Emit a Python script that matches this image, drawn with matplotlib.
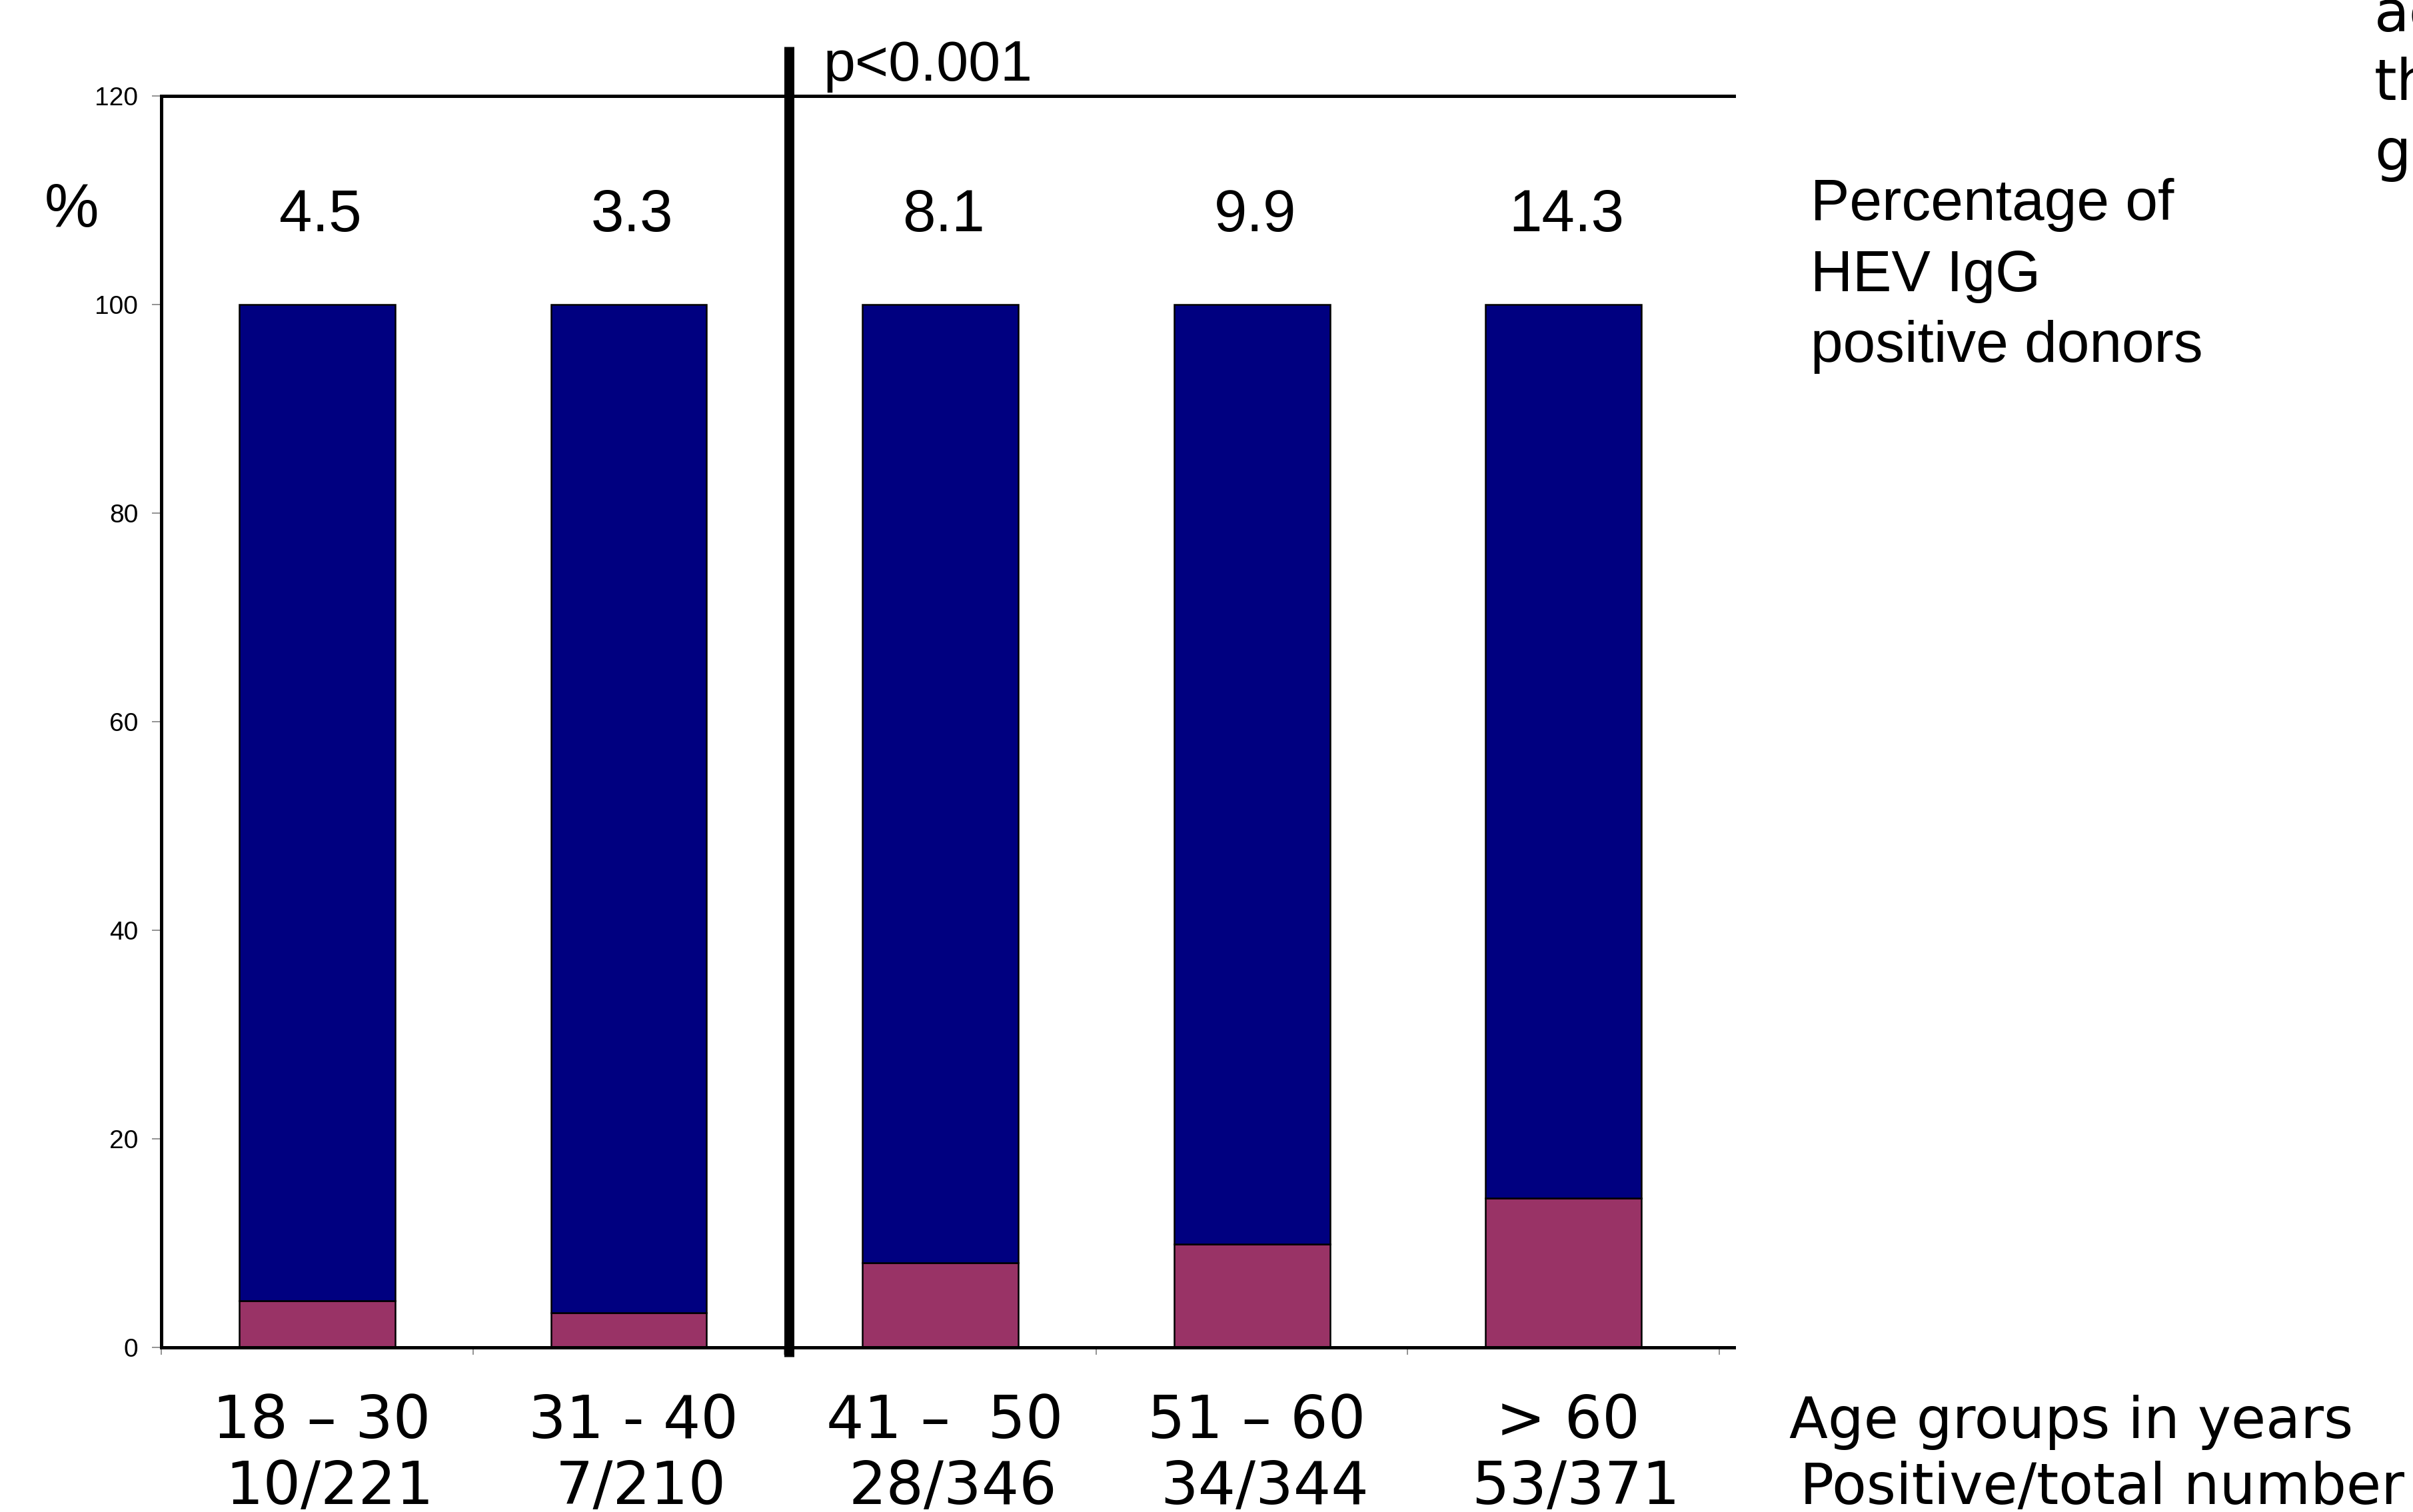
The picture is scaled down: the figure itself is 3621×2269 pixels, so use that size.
import matplotlib
matplotlib.use('Agg')
import matplotlib.pyplot as plt
from matplotlib.transforms import blended_transform_factory

# ---- data ----
age_groups = ["18 – 30", "31 - 40", "41 –  50", "51 – 60", "> 60"]
counts = ["10/221", "7/210", "28/346", "34/344", "53/371"]
positive_pct = [4.5, 3.3, 8.1, 9.9, 14.3]
total_pct = [100, 100, 100, 100, 100]
pct_labels = ["4.5", "3.3", "8.1", "9.9", "14.3"]
yticks = [0, 20, 40, 60, 80, 100, 120]
legend_lines = ["Percentage of", "HEV IgG", "positive donors"]
axis_note = ["Age groups in years", "Positive/total number"]
cut_text = ["according", "the", "groups"]

W, H = 3621, 2269
DPI = 200
ARIAL = 'Liberation Sans'
VERD = 'DejaVu Sans'

fig = plt.figure(figsize=(W / DPI, H / DPI), dpi=DPI)
fig.patch.set_facecolor('white')
ax = fig.add_axes([242 / W, 1 - 2022 / H, (2602 - 242) / W, (2022 - 144) / H])

x = list(range(len(age_groups)))
rest = [t - p for t, p in zip(total_pct, positive_pct)]
ax.bar(x, positive_pct, width=0.5, color='#993366', edgecolor='black', linewidth=0.9, zorder=2)
ax.bar(x, rest, bottom=positive_pct, width=0.5, color='#000080', edgecolor='black', linewidth=0.9, zorder=2)

ax.set_xlim(-0.5, 4.547)
ax.set_ylim(0, 120)

for s in ['left', 'top', 'bottom']:
    ax.spines[s].set_linewidth(1.8)
    ax.spines[s].set_color('black')
ax.spines['right'].set_visible(False)

ax.set_yticks(yticks)
ax.set_yticklabels([str(v) for v in yticks], fontfamily=ARIAL, fontsize=14)
ax.tick_params(axis='y', direction='out', length=5, width=0.6, color='#808080', pad=7.5)
ax.set_xticks([i - 0.5 for i in range(len(age_groups) + 1)])
ax.set_xticklabels([])
ax.tick_params(axis='x', direction='out', length=4, width=0.6, color='#808080')

# significance separator
ax.plot([1.515, 1.515], [-0.9, 124.7], color='black', lw=5.4, clip_on=False,
        solid_capstyle='butt', zorder=5)
ax.text(1.625, 121.5, 'p<0.001', ha='left', va='baseline', fontsize=31, fontfamily=ARIAL)

# percentage labels above bars
for xi, lab in zip(x, pct_labels):
    ax.text(xi + 0.01, 107.0, lab, ha='center', va='baseline', fontsize=32, fontfamily=ARIAL)

# category labels under the axis
trans = blended_transform_factory(ax.transData, fig.transFigure)
for xi, g, c in zip(x, age_groups, counts):
    fig.text(xi + 0.015, 1 - 2158 / H, g, transform=trans, ha='center', va='baseline',
             fontsize=32, fontfamily=VERD)
    fig.text(xi + 0.04, 1 - 2257 / H, c, transform=trans, ha='center', va='baseline',
             fontsize=32, fontfamily=VERD)

# y label
fig.text(107 / W, 1 - 316 / H, '%', ha='center', va='center', fontsize=33, fontfamily=ARIAL)

# right-hand legend text
for line, yb in zip(legend_lines, [330, 437, 543]):
    fig.text(2717 / W, 1 - yb / H, line, ha='left', va='baseline', fontsize=31.5, fontfamily=ARIAL)

fig.text(2685 / W, 1 - 2158 / H, axis_note[0], ha='left', va='baseline', fontsize=30.5, fontfamily=VERD)
fig.text(2701 / W, 1 - 2257 / H, axis_note[1], ha='left', va='baseline', fontsize=30.5, fontfamily=VERD)

# text cut off at the top-right edge (as in the reference)
for line, yb in zip(cut_text, [47, 150, 255]):
    fig.text(3563 / W, 1 - yb / H, line, ha='left', va='baseline', fontsize=31, fontfamily=VERD)

fig.savefig('out.png', dpi=DPI, facecolor='white')
